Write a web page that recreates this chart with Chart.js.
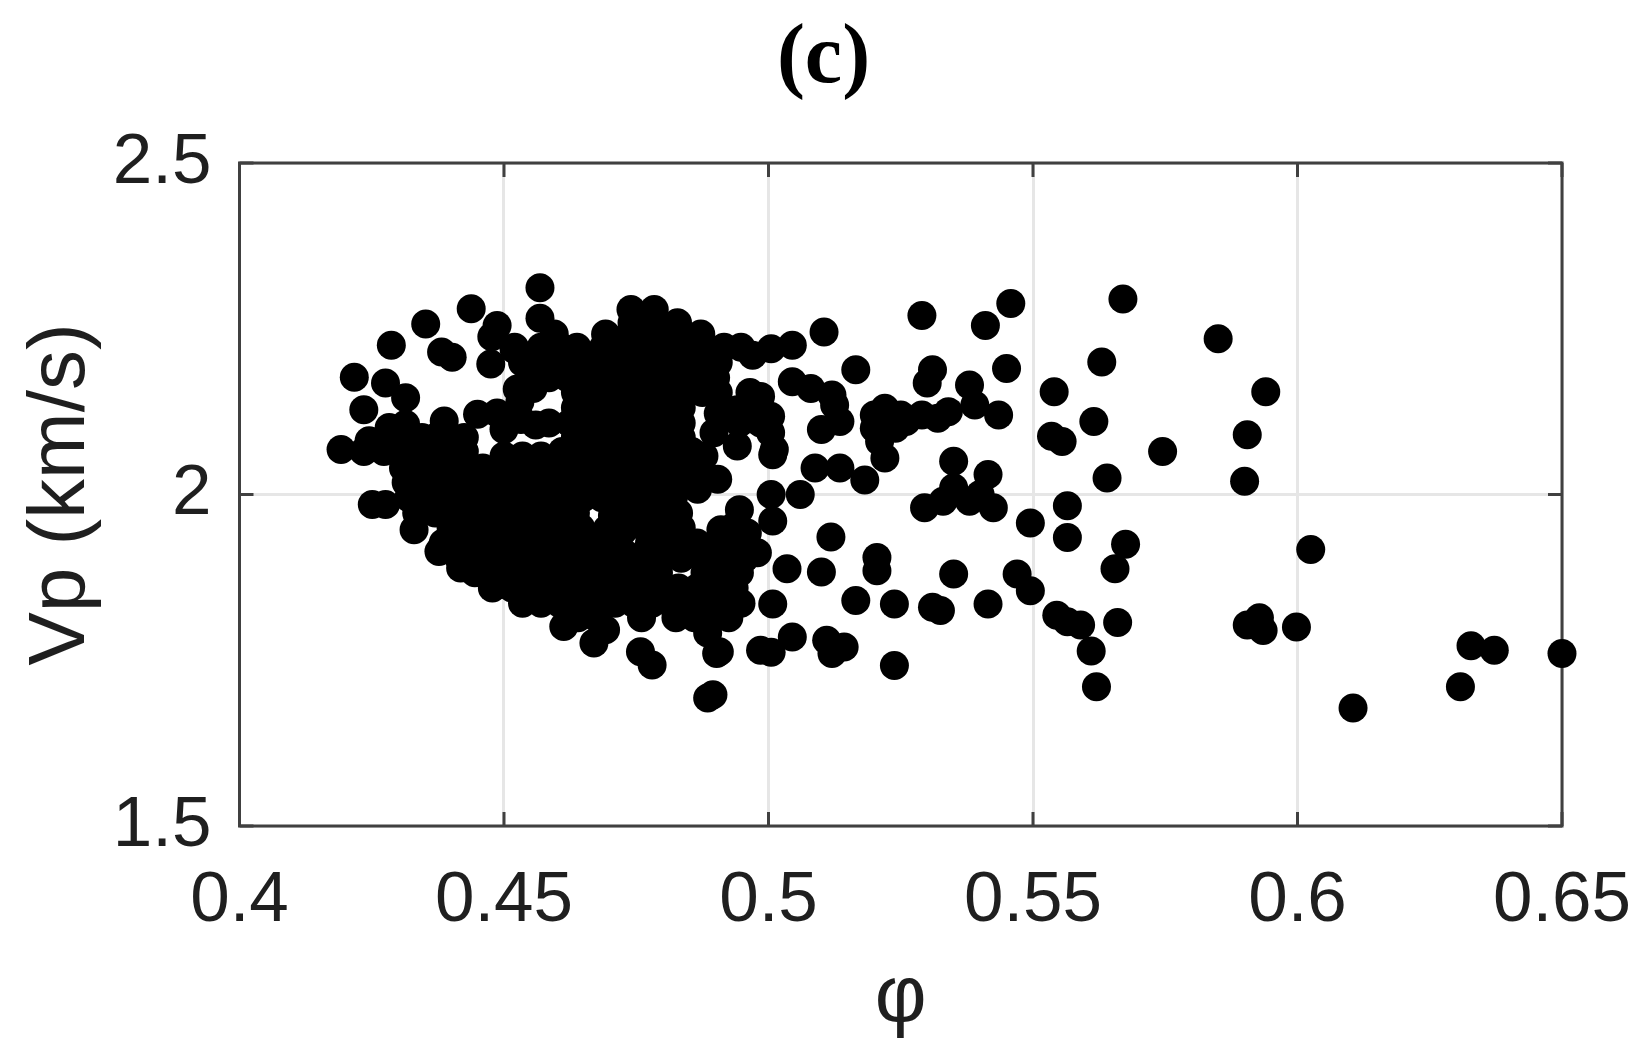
<!DOCTYPE html>
<html>
<head>
<meta charset="utf-8">
<style>html,body{margin:0;padding:0;background:#fff}#wrap{width:1647px;height:1057px}</style>
<script src="https://cdn.jsdelivr.net/npm/chart.js@4"></script>
</head>
<body>
<div id="wrap"><canvas id="c" width="1647" height="1057"></canvas></div>
<script>
const xTickLabels = ['0.4','0.45','0.5','0.55','0.6','0.65'];
const yTickLabels = ['1.5','2','2.5'];
const sparsePoints = [
[.65,1.76],[.6372,1.765],[.6328,1.772],[.6308,1.71],[.6105,1.678],[.5998,1.8],[.6025,1.917],[.5935,1.795],[.5928,1.814],[.5905,1.803],[.594,2.155],[.5905,2.09],[.59,2.02],[.585,2.235],[.5745,2.065],[.567,2.295],[.5675,1.925],[.5655,1.888],[.566,1.807],[.563,2.2],[.5615,2.11],[.564,2.025],[.562,1.71],[.561,1.764],[.559,1.803],[.5565,1.808],[.5545,1.818],[.554,2.155],[.5535,2.088],[.5555,2.08],[.5565,1.983],[.5565,1.935],[.5495,1.957],[.5495,1.855],[.547,1.88],[.5458,2.288],[.545,2.19],[.541,2.255],[.5435,2.12],[.5415,2.03],[.54,2.0],[.5425,1.98],[.538,1.99],[.5415,1.835],[.535,1.88],[.535,2.05],[.535,2.01],[.533,1.99],[.5295,1.98],[.529,2.27],[.531,2.188],[.53,2.168],[.538,2.165],[.539,2.135],[.534,2.125],[.532,2.115],[.529,2.12],[.531,1.83],[.5325,1.825],[.5238,1.835],[.5238,1.742],[.5205,1.905],[.5205,1.885],[.5165,1.84],[.5182,2.022],[.5165,2.188],[.5105,2.245],[.5125,2.135],[.5135,2.11],[.51,2.098],[.5135,2.04],[.5088,2.04],[.5118,1.936],[.51,1.883],[.5035,1.888],[.5008,1.835],[.5045,1.785],[.4985,1.765],[.5005,1.762],[.511,1.78],[.512,1.76],[.5143,1.77],[.4902,1.76],[.4885,1.693],[.4895,1.698],[.52,2.1],[.521,2.08],[.522,2.13],[.525,2.12],[.524,2.1],[.522,2.055],[.526,2.11],[.52,2.12],[.5045,2.225],[.5005,2.22],[.497,2.21],[.5045,2.17],[.508,2.16],[.512,2.15],[.5008,2.06],[.5005,2.0],[.506,2.0],[.5008,1.96]
];
const leftEdgePoints = [
[.4568,2.312],[.4568,2.266],[.4438,2.28],[.4352,2.257],[.4487,2.255],[.4477,2.238],[.4287,2.225],[.4382,2.215],[.4402,2.207],[.4475,2.197],[.4519,2.219],[.4217,2.177],[.4276,2.168],[.4314,2.146],[.4235,2.128],[.4192,2.068],[.4235,2.065],[.4245,2.081],[.4273,2.065],[.4283,2.101],[.4314,2.106],[.4387,2.111],[.445,2.121],[.4487,2.123],[.4525,2.159],[.45,2.098],[.4251,1.985],[.4276,1.985],[.433,1.947],[.4377,1.914],[.4418,1.889],[.4478,1.859],[.4613,1.801],[.467,1.776],[.4692,1.796],[.4758,1.763],[.478,1.743],[.4907,1.763]
];
const upperCorePoints = [
[.474,2.279],[.4784,2.279],[.4742,2.259],[.4786,2.259],[.4828,2.259],[.4595,2.242],[.4692,2.242],[.4738,2.242],[.4782,2.242],[.4826,2.242],[.4872,2.242],
[.452,2.222],[.457,2.222],[.4608,2.222],[.4638,2.222],[.4688,2.222],[.473,2.222],[.4768,2.222],[.4806,2.222],[.4844,2.222],[.4882,2.222],[.4916,2.222],[.4948,2.222],
[.4535,2.199],[.4565,2.199],[.46,2.199],[.4632,2.199],[.4665,2.199],[.47,2.199],[.4735,2.199],[.477,2.199],[.48,2.199],[.4835,2.199],[.487,2.199],[.4905,2.199],
[.4555,2.176],[.4585,2.176],[.462,2.176],[.4655,2.176],[.469,2.176],[.4725,2.176],[.476,2.176],[.4795,2.176],[.483,2.176],[.4865,2.176],[.49,2.176],
[.4555,2.16],[.453,2.14],[.4532,2.113],[.456,2.105],
[.4635,2.154],[.4665,2.154],[.47,2.154],[.4735,2.154],[.477,2.154],[.4805,2.154],[.484,2.154],[.4875,2.154],[.4905,2.154],[.4965,2.154],[.4985,2.148],
[.4635,2.131],[.467,2.131],[.4705,2.131],[.474,2.131],[.4775,2.131],[.481,2.131],[.4835,2.131],[.4905,2.122],[.4941,2.128],[.4955,2.131],[.5004,2.118],
[.4585,2.108],[.4625,2.108],[.466,2.108],[.47,2.108],[.4735,2.108],[.477,2.108],[.481,2.108],[.4835,2.108],[.4945,2.108],[.4985,2.108],
[.4315,2.086],[.4345,2.086],[.437,2.086],[.44,2.086],[.4425,2.086],[.4635,2.086],[.467,2.086],[.47,2.086],[.4735,2.086],[.477,2.086],[.481,2.086],[.4835,2.086],[.4897,2.093],[.5004,2.093],
[.4315,2.065],[.4345,2.065],[.4375,2.065],[.44,2.065],[.4425,2.065],[.45,2.058],[.4535,2.058],[.457,2.058],[.461,2.065],[.4645,2.065],[.468,2.065],[.4715,2.065],[.475,2.065],[.4785,2.065],[.482,2.065],[.4855,2.065],[.4878,2.058],[.4941,2.073],[.5011,2.068]
];
const lowerCorePoints = [
[.431,2.04],[.434,2.04],[.437,2.04],[.44,2.04],[.443,2.04],[.446,2.04],[.449,2.04],[.452,2.04],[.4555,2.04],[.459,2.04],[.4625,2.04],[.466,2.04],[.4695,2.04],[.473,2.04],[.4765,2.04],[.48,2.04],[.4835,2.04],[.487,2.04],
[.4315,2.018],[.435,2.018],[.438,2.018],[.441,2.018],[.444,2.018],[.447,2.018],[.45,2.018],[.4535,2.018],[.457,2.018],[.46,2.018],[.4635,2.018],[.467,2.018],[.4705,2.018],[.474,2.018],[.4775,2.018],[.481,2.018],[.4835,2.018],[.4866,2.008],[.4904,2.023],
[.432,1.995],[.436,1.995],[.439,1.995],[.442,1.995],[.4445,1.995],[.448,1.995],[.452,1.995],[.455,1.995],[.458,1.995],[.4615,1.995],[.465,1.995],[.4685,1.995],[.472,1.995],[.4755,1.995],[.479,1.995],[.482,1.995],
[.4335,1.972],[.437,1.972],[.44,1.972],[.443,1.972],[.4465,1.972],[.45,1.972],[.4535,1.972],[.457,1.972],[.46,1.972],[.463,1.972],[.4635,1.972],[.4705,1.968],[.4725,1.972],[.476,1.972],[.4795,1.972],[.483,1.972],
[.44,1.95],[.4435,1.95],[.447,1.95],[.45,1.95],[.4535,1.95],[.457,1.95],[.46,1.95],[.4625,1.96],[.4645,1.95],[.4695,1.948],[.4725,1.945],[.4745,1.955],[.478,1.955],[.482,1.95],[.4835,1.95],[.491,1.947],[.4935,1.952],[.4945,1.977],[.496,1.942],
[.4385,1.927],[.442,1.927],[.4455,1.927],[.449,1.927],[.4525,1.927],[.456,1.927],[.4595,1.927],[.463,1.927],[.4658,1.932],[.4775,1.927],[.481,1.927],[.4835,1.927],[.4865,1.927],[.4905,1.927],[.494,1.927],[.4979,1.912],
[.4415,1.904],[.445,1.904],[.4485,1.904],[.452,1.904],[.4555,1.904],[.459,1.904],[.4625,1.904],[.466,1.904],[.4695,1.91],[.473,1.91],[.4765,1.91],[.48,1.904],[.4835,1.904],[.4885,1.904],[.492,1.904],[.4955,1.904],
[.4445,1.882],[.448,1.882],[.4515,1.882],[.455,1.882],[.4585,1.882],[.462,1.882],[.4655,1.882],[.469,1.882],[.4725,1.882],[.476,1.882],[.4792,1.882],[.488,1.882],[.4915,1.882],[.4945,1.882],
[.4515,1.859],[.455,1.859],[.4585,1.859],[.462,1.859],[.4655,1.859],[.469,1.859],[.4725,1.859],[.476,1.859],[.4795,1.859],[.483,1.859],[.4865,1.859],[.49,1.859],[.4935,1.859],
[.4535,1.836],[.457,1.836],[.4605,1.836],[.464,1.836],[.4675,1.836],[.471,1.836],[.4745,1.836],[.478,1.836],[.4815,1.836],[.485,1.836],[.4885,1.836],[.492,1.836],[.4948,1.836],
[.464,1.814],[.4675,1.814],[.476,1.814],[.4825,1.814],[.486,1.814],[.4895,1.814],[.4925,1.814],[.4885,1.791]
];
const PLOT = {left:239.5, right:1562, top:163, bottom:826};
const FRAME = '#404040';
const scatterPoints = sparsePoints.concat(leftEdgePoints, upperCorePoints, lowerCorePoints).map(p => ({x:p[0], y:p[1]}));

const framePlugin = {
  id:'frame',
  beforeDatasetsDraw(chart){
    const {ctx, chartArea:a, scales:{x, y}} = chart;
    ctx.save();
    ctx.strokeStyle = FRAME;
    ctx.lineWidth = 3;
    ctx.strokeRect(a.left, a.top, a.right - a.left, a.bottom - a.top);
    ctx.beginPath();
    x.ticks.forEach(t => {
      const px = x.getPixelForValue(t.value);
      ctx.moveTo(px, a.bottom); ctx.lineTo(px, a.bottom - 14);
      ctx.moveTo(px, a.top); ctx.lineTo(px, a.top + 14);
    });
    y.ticks.forEach(t => {
      const py = y.getPixelForValue(t.value);
      ctx.moveTo(a.left, py); ctx.lineTo(a.left + 14, py);
      ctx.moveTo(a.right, py); ctx.lineTo(a.right - 14, py);
    });
    ctx.stroke();
    ctx.restore();
  }
};

new Chart(document.getElementById('c'), {
  type:'scatter',
  data:{datasets:[{
    data:scatterPoints, xAxisID:'x', yAxisID:'y',
    backgroundColor:'#000', borderColor:'#000', borderWidth:0,
    pointRadius:14.5, pointHoverRadius:14.5, clip:false
  }]},
  options:{
    responsive:false, animation:false, devicePixelRatio:1,
    layout:{padding:0},
    plugins:{
      legend:{display:false}, tooltip:{enabled:false},
      title:{display:true, text:'(c)', color:'#000',
        font:{family:'"Liberation Serif"', size:84, weight:'bold', lineHeight:1},
        padding:{top:18, bottom:PLOT.top-102}}
    },
    scales:{
      x:{type:'linear', min:.4, max:.65,
        afterFit(s){s.height = 1057 - PLOT.bottom; s.paddingLeft = 0; s.paddingRight = 0;},
        afterBuildTicks(s){s.ticks = xTickLabels.map(v => ({value:+v}));},
        grid:{color:'#e6e6e6', lineWidth:3, drawTicks:false},
        border:{display:false},
        ticks:{autoSkip:false, maxRotation:0, color:'#1f1f1f', padding:33,
          font:{family:'"Liberation Sans"', size:71},
          callback:(v,i) => xTickLabels[i]},
        title:{display:true, text:'φ', color:'#1f1f1f',
          font:{family:'"Liberation Sans"', size:80}, padding:{top:0,bottom:10}}
      },
      y:{type:'linear', min:1.5, max:2.5,
        afterFit(s){s.width = PLOT.left; s.paddingTop = 0; s.paddingBottom = 0;},
        afterBuildTicks(s){s.ticks = yTickLabels.map(v => ({value:+v}));},
        grid:{color:'#e6e6e6', lineWidth:3, drawTicks:false},
        border:{display:false},
        ticks:{autoSkip:false, color:'#1f1f1f', padding:28,
          font:{family:'"Liberation Sans"', size:71},
          callback:(v,i) => yTickLabels[i]},
        title:{display:true, text:'Vp (km/s)', color:'#1f1f1f',
          font:{family:'"Liberation Sans"', size:80}, padding:{top:14,bottom:0}}
      },
      rightSpacer:{type:'linear', position:'right', min:0, max:1,
        afterFit(s){s.width = 1647 - PLOT.right;},
        grid:{display:false}, border:{display:false},
        ticks:{display:false}
      }
    }
  },
  plugins:[framePlugin]
});
</script>
</body>
</html>
